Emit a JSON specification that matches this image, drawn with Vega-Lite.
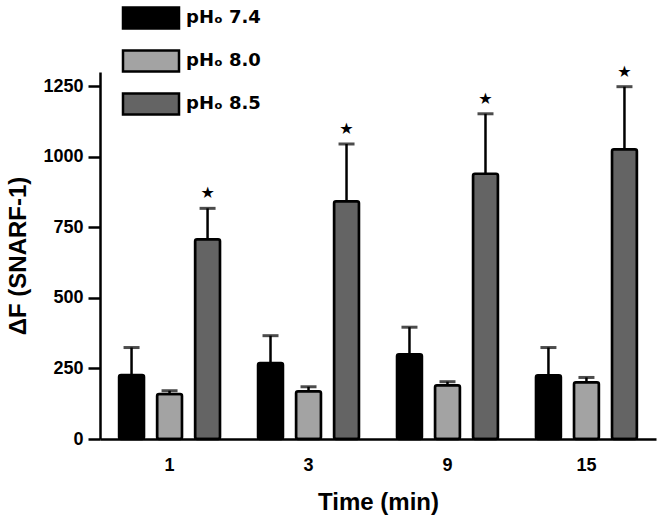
{
  "$schema": "https://vega.github.io/schema/vega-lite/v6.json",
  "width": 556,
  "height": 367,
  "autosize": {"type": "none"},
  "padding": {"left": 100, "top": 72, "right": 8, "bottom": 90},
  "background": "white",
  "config": {
    "view": {"stroke": null},
    "font": "Liberation Sans",
    "axis": {
      "domainColor": "black",
      "domainWidth": 2.5,
      "tickColor": "black",
      "tickWidth": 2.5,
      "grid": false,
      "labelFont": "Liberation Sans",
      "labelFontWeight": "bold",
      "labelFontSize": 18,
      "labelColor": "black",
      "titleFont": "Liberation Sans",
      "titleFontWeight": "bold",
      "titleColor": "black"
    }
  },
  "data": {
    "values": [
      {"time": "1", "ph": "pHₒ 7.4", "mean": 227, "hi": 324, "star": false},
      {"time": "1", "ph": "pHₒ 8.0", "mean": 159, "hi": 171, "star": false},
      {"time": "1", "ph": "pHₒ 8.5", "mean": 708, "hi": 817, "star": true},
      {"time": "3", "ph": "pHₒ 7.4", "mean": 269, "hi": 366, "star": false},
      {"time": "3", "ph": "pHₒ 8.0", "mean": 169, "hi": 185, "star": false},
      {"time": "3", "ph": "pHₒ 8.5", "mean": 842, "hi": 1045, "star": true},
      {"time": "9", "ph": "pHₒ 7.4", "mean": 300, "hi": 396, "star": false},
      {"time": "9", "ph": "pHₒ 8.0", "mean": 190, "hi": 203, "star": false},
      {"time": "9", "ph": "pHₒ 8.5", "mean": 940, "hi": 1152, "star": true},
      {"time": "15", "ph": "pHₒ 7.4", "mean": 226, "hi": 324, "star": false},
      {"time": "15", "ph": "pHₒ 8.0", "mean": 201, "hi": 218, "star": false},
      {"time": "15", "ph": "pHₒ 8.5", "mean": 1026, "hi": 1248, "star": true}
    ]
  },
  "encoding": {
    "x": {
      "field": "time",
      "type": "nominal",
      "sort": ["1", "3", "9", "15"],
      "scale": {"paddingInner": 0.273, "paddingOuter": 0.137},
      "axis": {
        "title": "Time (min)",
        "titleFontSize": 24,
        "titlePadding": 16,
        "labelAngle": 0,
        "ticks": false,
        "labelPadding": 17
      }
    },
    "xOffset": {
      "field": "ph",
      "type": "nominal",
      "sort": ["pHₒ 7.4", "pHₒ 8.0", "pHₒ 8.5"],
      "scale": {"paddingInner": 0.342, "paddingOuter": 0}
    }
  },
  "layer": [
    {
      "mark": {"type": "rule", "strokeWidth": 2.5, "color": "black"},
      "encoding": {
        "y": {
          "field": "mean",
          "type": "quantitative",
          "scale": {"domain": [0, 1250]},
          "title": "ΔF (SNARF-1)",
          "axis": {
            "values": [0, 250, 500, 750, 1000, 1250],
            "format": "d",
            "tickSize": 12,
            "labelPadding": 5,
            "titleFontSize": 24,
            "titlePadding": 12
          }
        },
        "y2": {"field": "hi"}
      }
    },
    {
      "mark": {"type": "bar", "stroke": "black", "strokeWidth": 2.5, "cornerRadius": 2},
      "encoding": {
        "y": {"field": "mean", "type": "quantitative", "title": "ΔF (SNARF-1)"},
        "color": {
          "field": "ph",
          "type": "nominal",
          "sort": ["pHₒ 7.4", "pHₒ 8.0", "pHₒ 8.5"],
          "scale": {"domain": ["pHₒ 7.4", "pHₒ 8.0", "pHₒ 8.5"], "range": ["#000000", "#a3a3a3", "#646464"]},
          "legend": {
            "orient": "none",
            "legendX": 39,
            "legendY": -66,
            "title": null,
            "padding": 0,
            "symbolType": "M-2.667,-1H2.667V1H-2.667Z",
            "symbolSize": 441,
            "symbolStrokeColor": "black",
            "symbolStrokeWidth": 2.5,
            "symbolOpacity": 1,
            "labelFont": "DejaVu Sans",
            "labelFontWeight": "bold",
            "labelFontSize": 18,
            "labelColor": "black",
            "labelOffset": 23,
            "rowPadding": 11,
            "labelLimit": 200
          }
        }
      }
    },
    {
      "mark": {"type": "tick", "thickness": 3, "size": 16, "color": "black"},
      "encoding": {
        "y": {"field": "hi", "type": "quantitative", "title": "ΔF (SNARF-1)"}
      }
    },
    {
      "transform": [{"filter": "datum.star"}],
      "mark": {"type": "text", "text": "★", "font": "DejaVu Sans", "fontSize": 16, "color": "black", "baseline": "middle", "dy": -15},
      "encoding": {
        "y": {"field": "hi", "type": "quantitative", "title": "ΔF (SNARF-1)"}
      }
    }
  ]
}
